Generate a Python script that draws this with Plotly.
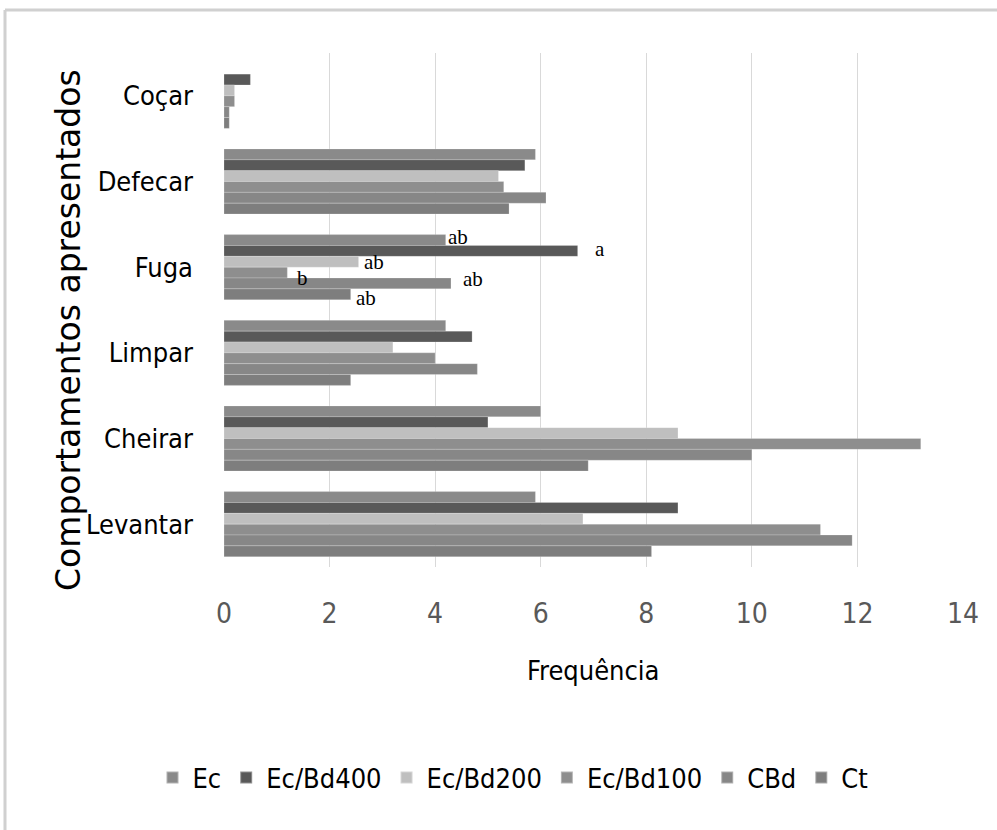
import plotly.graph_objects as go

categories = ["Coçar", "Defecar", "Fuga", "Limpar", "Cheirar", "Levantar"]
series_names = ["Ec", "Ec/Bd400", "Ec/Bd200", "Ec/Bd100", "CBd", "Ct"]

ec = [0.0, 5.9, 4.2, 4.2, 6.0, 5.9]
ec_bd400 = [0.5, 5.7, 6.7, 4.7, 5.0, 8.6]
ec_bd200 = [0.2, 5.2, 2.55, 3.2, 8.6, 6.8]
ec_bd100 = [0.2, 5.3, 1.2, 4.0, 13.2, 11.3]
cbd = [0.1, 6.1, 4.3, 4.8, 10.0, 11.9]
ct = [0.1, 5.4, 2.4, 2.4, 6.9, 8.1]

fuga_letters = ["ab", "a", "ab", "b", "ab", "ab"]

x_ticks = [0, 2, 4, 6, 8, 10, 12, 14]

series_values = [ec, ec_bd400, ec_bd200, ec_bd100, cbd, ct]
colors = ["#8a8a8a", "#595959", "#bfbfbf", "#8e8e8e", "#878787", "#7e7e7e"]

W, H = 997, 830
L, R, T, B = 224, 34, 53, 263
pw, ph = W - L - R, H - T - B

sans = "DejaVu Sans Condensed, Liberation Sans Narrow, DejaVu Sans, sans-serif"

fig = go.Figure()
for name, vals, col in zip(series_names, series_values, colors):
    fig.add_trace(go.Bar(
        name=name, y=categories, x=vals, orientation="h",
        marker=dict(color=col, line=dict(width=0.6, color="rgba(255,255,255,0.35)")),
    ))

bargap = 0.24
n = len(series_names)
bw = (1 - bargap) / n
fuga_idx = categories.index("Fuga")
xshifts = [0, 15, 3, 8, 10, 3]
yshifts = [3, 2, 0, -5, 4, -4]
annotations = []
for i, (lab, vals) in enumerate(zip(fuga_letters, series_values)):
    yc = fuga_idx - (1 - bargap) / 2 + (i + 0.5) * bw
    annotations.append(dict(
        x=vals[fuga_idx], y=yc, xref="x", yref="y", text=lab, showarrow=False,
        xanchor="left", yanchor="middle", xshift=xshifts[i], yshift=yshifts[i],
        font=dict(family="Liberation Serif, Times New Roman, serif", size=21, color="#000000"),
    ))

# axis titles
annotations.append(dict(
    text="Frequência", x=0.5, y=(H - 670 - B) / ph, xref="paper", yref="paper",
    showarrow=False, xanchor="center", yanchor="middle",
    font=dict(family=sans, size=27, color="#000000"),
))
annotations.append(dict(
    text="Comportamentos apresentados", x=(68 - L) / pw, y=(H - 330 - B) / ph,
    xref="paper", yref="paper", showarrow=False, textangle=-90,
    xanchor="center", yanchor="middle",
    font=dict(family="DejaVu Sans, sans-serif", size=33, color="#000000"),
))

# outer frame (light gray)
shapes = [
    dict(type="line", xref="paper", yref="paper",
         x0=(5 - L) / pw, x1=(W + 5 - L) / pw, y0=(H - 10 - B) / ph, y1=(H - 10 - B) / ph,
         line=dict(color="#d0d0d0", width=3)),
    dict(type="line", xref="paper", yref="paper",
         x0=(5 - L) / pw, x1=(5 - L) / pw, y0=(H - 10 - B) / ph, y1=(-10 - B) / ph,
         line=dict(color="#d0d0d0", width=3)),
]

fig.update_layout(
    width=W, height=H,
    margin=dict(l=L, r=R, t=T, b=B, autoexpand=False),
    paper_bgcolor="#ffffff", plot_bgcolor="#ffffff",
    barmode="group", bargap=bargap, bargroupgap=0,
    showlegend=True,
    legend=dict(
        orientation="h", x=(513 - L) / pw, xanchor="center",
        y=(H - 778 - B) / ph, yanchor="middle",
        font=dict(family=sans, size=27, color="#000000"),
        itemsizing="constant", traceorder="normal",
    ),
    annotations=annotations,
    shapes=shapes,
    xaxis=dict(
        range=[0, 14], tickvals=x_ticks, ticktext=[str(v) for v in x_ticks],
        showgrid=True, gridcolor="#d9d9d9", gridwidth=1, zeroline=False,
        showline=False, ticks="", ticklabelstandoff=27,
        tickfont=dict(family=sans, size=28, color="#595959"),
        fixedrange=True,
    ),
    yaxis=dict(
        type="category", categoryorder="array", categoryarray=categories,
        autorange="reversed", showgrid=False, zeroline=False,
        showline=False, ticks="", ticklabelstandoff=30,
        tickfont=dict(family=sans, size=27, color="#000000"),
        fixedrange=True,
    ),
)

fig.write_html(
    "out.html",
    config={"displayModeBar": False},
    post_script="document.body.style.margin='0';document.body.style.overflow='hidden';",
)
